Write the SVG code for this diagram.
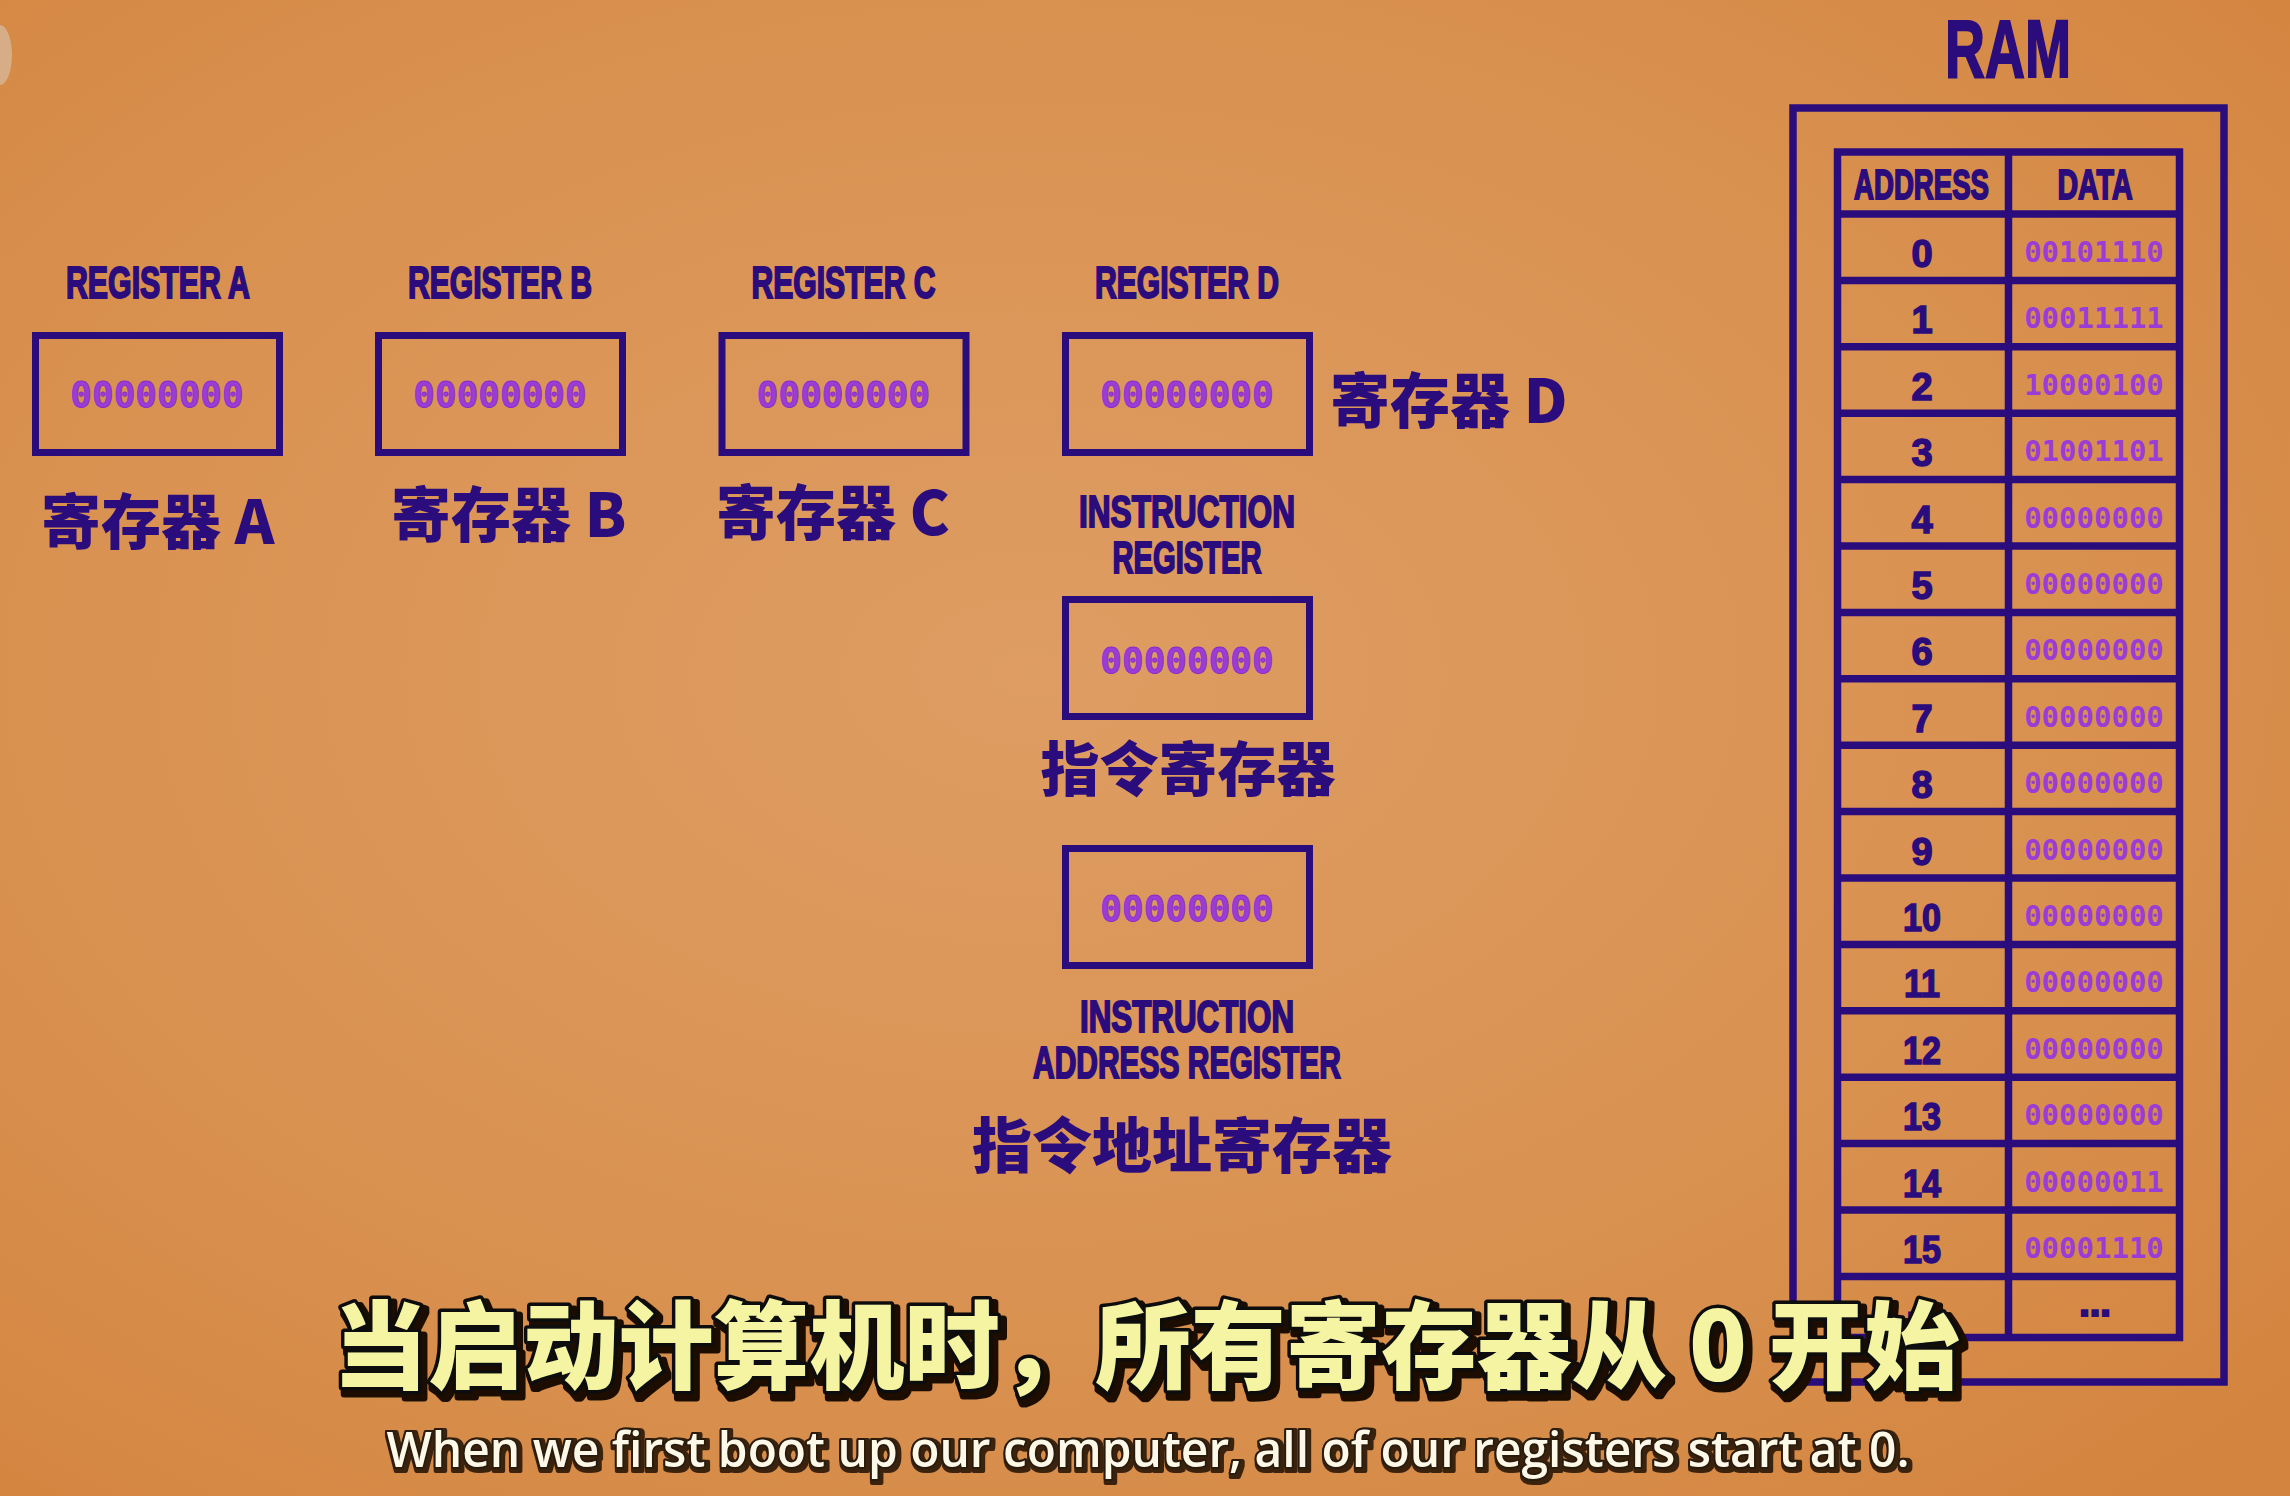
<svg xmlns="http://www.w3.org/2000/svg" width="2290" height="1496" viewBox="0 0 2290 1496">
<defs>
<radialGradient id="bg" cx="0.45" cy="0.45" r="0.75">
<stop offset="0" stop-color="#de9d63"/>
<stop offset="0.6" stop-color="#d99150"/>
<stop offset="1" stop-color="#d3843e"/>
</radialGradient>
<filter id="sh" x="-5%" y="-30%" width="110%" height="170%">
<feOffset in="SourceAlpha" dx="4" dy="5" result="o"/>
<feMorphology in="o" operator="dilate" radius="2" result="d"/>
<feFlood flood-color="#1a0e05"/>
<feComposite in2="d" operator="in" result="s"/>
<feMerge><feMergeNode in="s"/><feMergeNode in="SourceGraphic"/></feMerge>
</filter>
<filter id="sh2" x="-5%" y="-30%" width="110%" height="170%">
<feOffset in="SourceAlpha" dx="2" dy="2" result="o"/>
<feMorphology in="o" operator="dilate" radius="1.5" result="d"/>
<feFlood flood-color="#3a2410"/>
<feComposite in2="d" operator="in" result="s"/>
<feMerge><feMergeNode in="s"/><feMergeNode in="SourceGraphic"/></feMerge>
</filter>
<style>
.box{fill:none;stroke:#2b0c7c;stroke-width:7}
.lbl{font-family:"Liberation Sans","DejaVu Sans",sans-serif;font-weight:700;fill:#2b0c7c;stroke:#2b0c7c;stroke-width:2;text-anchor:middle}
.cn{font-family:"Noto Sans CJK SC","Noto Sans",sans-serif;font-weight:900;fill:#2b0c7c}
.val{font-family:"DejaVu Sans Mono","Liberation Mono",monospace;font-weight:700;fill:#9a3cd6;stroke:#8a2cc6;stroke-width:0.8;text-anchor:middle}
.tbl{stroke:#2b0c7c;stroke-width:7.5;fill:none}
.addr{font-family:"Liberation Sans","DejaVu Sans",sans-serif;font-weight:700;fill:#2b0c7c;stroke:#2b0c7c;stroke-width:1.5;text-anchor:middle;font-size:38px}
.data{font-family:"DejaVu Sans Mono","Liberation Mono",monospace;font-weight:700;fill:#9a3cd6;text-anchor:middle;font-size:29px}
.subcn{font-family:"Noto Sans CJK SC","Noto Sans",sans-serif;font-weight:900;font-size:96px}
.suben{font-family:"Open Sans","Noto Sans",sans-serif;font-weight:600;font-size:48px}
</style>
</defs>
<rect x="0" y="0" width="2290" height="1496" fill="url(#bg)"/>
<ellipse cx="0" cy="55" rx="12" ry="30" fill="#d8d0c8" opacity="0.5"/>

<g id="register-a">
<text class="lbl" x="158" y="298" font-size="44" textLength="184" lengthAdjust="spacingAndGlyphs">REGISTER A</text>
<rect class="box" x="35.5" y="335.5" width="244" height="117"/>
<text class="val" x="157" y="407" font-size="36">00000000</text>
<text class="cn" x="41" y="544" font-size="60">寄存器 A</text>
</g>
<g id="register-b">
<text class="lbl" x="500" y="298" font-size="44" textLength="184" lengthAdjust="spacingAndGlyphs">REGISTER B</text>
<rect class="box" x="378.5" y="335.5" width="244" height="117"/>
<text class="val" x="500" y="407" font-size="36">00000000</text>
<text class="cn" x="391" y="537" font-size="60">寄存器 B</text>
</g>
<g id="register-c">
<text class="lbl" x="843.5" y="298" font-size="44" textLength="184" lengthAdjust="spacingAndGlyphs">REGISTER C</text>
<rect class="box" x="722" y="335.5" width="244" height="117"/>
<text class="val" x="843.5" y="407" font-size="36">00000000</text>
<text class="cn" x="716" y="535" font-size="60">寄存器 C</text>
</g>
<g id="register-d">
<text class="lbl" x="1187" y="298" font-size="44" textLength="184" lengthAdjust="spacingAndGlyphs">REGISTER D</text>
<rect class="box" x="1065.5" y="335.5" width="244" height="117"/>
<text class="val" x="1187" y="407" font-size="36">00000000</text>
<text class="cn" x="1330" y="423" font-size="60">寄存器 D</text>
</g>
<g id="instruction-register">
<text class="lbl" x="1187" y="527" font-size="44" textLength="216" lengthAdjust="spacingAndGlyphs">INSTRUCTION</text>
<text class="lbl" x="1187" y="573" font-size="44" textLength="149" lengthAdjust="spacingAndGlyphs">REGISTER</text>
<rect class="box" x="1065.5" y="599.5" width="244" height="117"/>
<text class="val" x="1187" y="673" font-size="36">00000000</text>
<text class="cn" x="1188" y="791" font-size="59" text-anchor="middle">指令寄存器</text>
</g>
<g id="instruction-address-register">
<rect class="box" x="1065.5" y="848.5" width="244" height="117"/>
<text class="val" x="1187" y="921" font-size="36">00000000</text>
<text class="lbl" x="1187" y="1032" font-size="44" textLength="214" lengthAdjust="spacingAndGlyphs">INSTRUCTION</text>
<text class="lbl" x="1187" y="1078" font-size="44" textLength="308" lengthAdjust="spacingAndGlyphs">ADDRESS REGISTER</text>
<text class="cn" x="1182" y="1168" font-size="60" text-anchor="middle">指令地址寄存器</text>
</g>

<g id="ram">
<text class="lbl" x="2008" y="77" font-size="81" textLength="126" lengthAdjust="spacingAndGlyphs" stroke-width="3">RAM</text>
<rect class="tbl" x="1793" y="108" width="431" height="1274" stroke-width="8.5"/>
<rect class="tbl" x="1837.5" y="152" width="342" height="1185.5"/>
<line class="tbl" x1="2008.5" y1="152" x2="2008.5" y2="1337.5"/>
<path class="tbl" d="M1837.5 214H2179.5M1837.5 280.4H2179.5M1837.5 346.8H2179.5M1837.5 413.2H2179.5M1837.5 479.6H2179.5M1837.5 546H2179.5M1837.5 612.4H2179.5M1837.5 678.8H2179.5M1837.5 745.2H2179.5M1837.5 811.6H2179.5M1837.5 878H2179.5M1837.5 944.4H2179.5M1837.5 1010.8H2179.5M1837.5 1077.2H2179.5M1837.5 1143.6H2179.5M1837.5 1210H2179.5M1837.5 1276.4H2179.5"/>
<text class="lbl" x="1921.5" y="199" font-size="42" textLength="135" lengthAdjust="spacingAndGlyphs">ADDRESS</text>
<text class="lbl" x="2095" y="199" font-size="42" textLength="75" lengthAdjust="spacingAndGlyphs">DATA</text>
<g class="addr">
<text x="1922" y="267">0</text>
<text x="1922" y="333.4">1</text>
<text x="1922" y="399.8">2</text>
<text x="1922" y="466.2">3</text>
<text x="1922" y="532.6">4</text>
<text x="1922" y="599">5</text>
<text x="1922" y="665.4">6</text>
<text x="1922" y="731.8">7</text>
<text x="1922" y="798.2">8</text>
<text x="1922" y="864.6">9</text>
<text x="1922" y="931" textLength="38" lengthAdjust="spacingAndGlyphs">10</text>
<text x="1922" y="997.4" textLength="36" lengthAdjust="spacingAndGlyphs">11</text>
<text x="1922" y="1063.8" textLength="38" lengthAdjust="spacingAndGlyphs">12</text>
<text x="1922" y="1130.2" textLength="38" lengthAdjust="spacingAndGlyphs">13</text>
<text x="1922" y="1196.6" textLength="38" lengthAdjust="spacingAndGlyphs">14</text>
<text x="1922" y="1263" textLength="38" lengthAdjust="spacingAndGlyphs">15</text>
<text x="1922" y="1318">...</text>
</g>
<g class="data">
<text x="2094" y="262">00101110</text>
<text x="2094" y="328.4">00011111</text>
<text x="2094" y="394.8">10000100</text>
<text x="2094" y="461.2">01001101</text>
<text x="2094" y="527.6">00000000</text>
<text x="2094" y="594">00000000</text>
<text x="2094" y="660.4">00000000</text>
<text x="2094" y="726.8">00000000</text>
<text x="2094" y="793.2">00000000</text>
<text x="2094" y="859.6">00000000</text>
<text x="2094" y="926">00000000</text>
<text x="2094" y="992.4">00000000</text>
<text x="2094" y="1058.8">00000000</text>
<text x="2094" y="1125.2">00000000</text>
<text x="2094" y="1191.6">00000011</text>
<text x="2094" y="1258">00001110</text>
</g>
<text class="lbl" x="2095" y="1316" font-size="38">...</text>
</g>

<g id="connectors"></g>

<g id="subtitles">
<text class="subcn" x="1146" y="1381" text-anchor="middle" textLength="1627" lengthAdjust="spacingAndGlyphs" fill="#f4f4a2" stroke="#0a0a0a" stroke-width="7" stroke-linejoin="round" paint-order="stroke" filter="url(#sh)">当启动计算机时，所有寄存器从 0 开始</text>
<text class="suben" x="1148" y="1467" text-anchor="middle" textLength="1523" lengthAdjust="spacingAndGlyphs" fill="#fdf8e8" stroke="#2a1a0a" stroke-width="4" stroke-linejoin="round" paint-order="stroke" filter="url(#sh2)">When we first boot up our computer, all of our registers start at 0.</text>
</g>
</svg>
